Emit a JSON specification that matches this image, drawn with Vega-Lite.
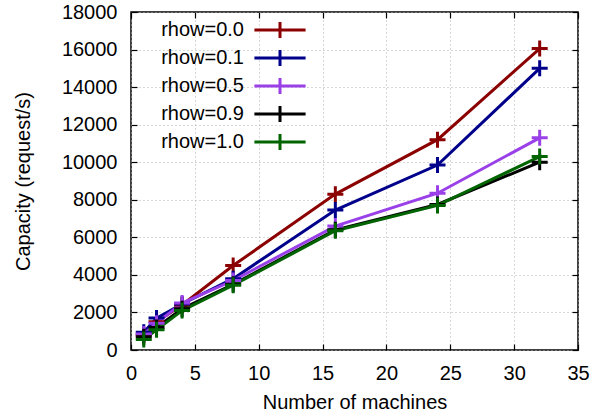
{
  "$schema": "https://vega.github.io/schema/vega-lite/v6.json",
  "width": 447,
  "height": 338,
  "autosize": "none",
  "padding": {"left": 131, "top": 12, "right": 22, "bottom": 68},
  "background": "white",
  "config": {
    "font": "Liberation Sans",
    "view": {"stroke": "black", "strokeWidth": 1.5},
    "axis": {
      "labelFont": "Liberation Sans",
      "titleFont": "Liberation Sans",
      "labelFontSize": 20,
      "titleFontSize": 20,
      "labelColor": "black",
      "titleColor": "black",
      "titleFontWeight": "normal",
      "domain": false,
      "grid": true,
      "gridColor": "#b0b0b0",
      "gridDash": [1, 3],
      "gridWidth": 1,
      "tickColor": "black",
      "tickSize": -6,
      "tickWidth": 1.2,
      "labelFlush": false,
      "format": "d"
    }
  },
  "data": {
    "values": [
      {"m": 1, "cap": 800, "rhow": "rhow=0.0"},
      {"m": 2, "cap": 1500, "rhow": "rhow=0.0"},
      {"m": 4, "cap": 2400, "rhow": "rhow=0.0"},
      {"m": 8, "cap": 4500, "rhow": "rhow=0.0"},
      {"m": 16, "cap": 8300, "rhow": "rhow=0.0"},
      {"m": 24, "cap": 11200, "rhow": "rhow=0.0"},
      {"m": 32, "cap": 16050, "rhow": "rhow=0.0"},
      {"m": 1, "cap": 950, "rhow": "rhow=0.1"},
      {"m": 2, "cap": 1700, "rhow": "rhow=0.1"},
      {"m": 4, "cap": 2450, "rhow": "rhow=0.1"},
      {"m": 8, "cap": 3800, "rhow": "rhow=0.1"},
      {"m": 16, "cap": 7450, "rhow": "rhow=0.1"},
      {"m": 24, "cap": 9850, "rhow": "rhow=0.1"},
      {"m": 32, "cap": 15000, "rhow": "rhow=0.1"},
      {"m": 1, "cap": 850, "rhow": "rhow=0.5"},
      {"m": 2, "cap": 1430, "rhow": "rhow=0.5"},
      {"m": 4, "cap": 2500, "rhow": "rhow=0.5"},
      {"m": 8, "cap": 3700, "rhow": "rhow=0.5"},
      {"m": 16, "cap": 6600, "rhow": "rhow=0.5"},
      {"m": 24, "cap": 8350, "rhow": "rhow=0.5"},
      {"m": 32, "cap": 11300, "rhow": "rhow=0.5"},
      {"m": 1, "cap": 700, "rhow": "rhow=0.9"},
      {"m": 2, "cap": 1200, "rhow": "rhow=0.9"},
      {"m": 4, "cap": 2200, "rhow": "rhow=0.9"},
      {"m": 8, "cap": 3500, "rhow": "rhow=0.9"},
      {"m": 16, "cap": 6400, "rhow": "rhow=0.9"},
      {"m": 24, "cap": 7750, "rhow": "rhow=0.9"},
      {"m": 32, "cap": 10000, "rhow": "rhow=0.9"},
      {"m": 1, "cap": 560, "rhow": "rhow=1.0"},
      {"m": 2, "cap": 1080, "rhow": "rhow=1.0"},
      {"m": 4, "cap": 2100, "rhow": "rhow=1.0"},
      {"m": 8, "cap": 3450, "rhow": "rhow=1.0"},
      {"m": 16, "cap": 6350, "rhow": "rhow=1.0"},
      {"m": 24, "cap": 7700, "rhow": "rhow=1.0"},
      {"m": 32, "cap": 10300, "rhow": "rhow=1.0"}
    ]
  },
  "layer": [
    {
      "mark": {
        "type": "line",
        "strokeWidth": 3,
        "clip": true,
        "point": {
          "shape": "M-1,0H1M0,-1V1",
          "size": 256,
          "filled": false,
          "strokeWidth": 3
        }
      },
      "encoding": {
        "x": {
          "field": "m",
          "type": "quantitative",
          "scale": {"domain": [0, 35], "nice": false},
          "axis": {
            "values": [0, 5, 10, 15, 20, 25, 30, 35],
            "title": "Number of machines",
            "labelPadding": 19.5,
            "titlePadding": 9
          }
        },
        "y": {
          "field": "cap",
          "type": "quantitative",
          "scale": {"domain": [0, 18000], "nice": false},
          "axis": {
            "values": [0, 2000, 4000, 6000, 8000, 10000, 12000, 14000, 16000, 18000],
            "title": "Capacity (request/s)",
            "labelPadding": 20,
            "titlePadding": 28
          }
        },
        "color": {
          "field": "rhow",
          "type": "nominal",
          "scale": {
            "domain": ["rhow=0.0", "rhow=0.1", "rhow=0.5", "rhow=0.9", "rhow=1.0"],
            "range": ["#8b0000", "#00008b", "#9a40e8", "#000000", "#006400"]
          },
          "legend": {
            "title": null,
            "orient": "none",
            "legendX": 139,
            "legendY": 8,
            "padding": 0,
            "symbolType": "M-3.2,0H3.2M0,-1V1",
            "symbolSize": 256,
            "symbolStrokeWidth": 3,
            "labelFont": "Liberation Sans",
            "labelFontSize": 20,
            "labelColor": "black",
            "labelAlign": "right",
            "labelOffset": -46,
            "rowPadding": 0
          }
        }
      }
    },
    {
      "mark": {"type": "point", "opacity": 0},
      "encoding": {
        "x": {
          "field": "m",
          "type": "quantitative",
          "scale": {"domain": [0, 35], "nice": false},
          "axis": {
            "orient": "top",
            "values": [0, 5, 10, 15, 20, 25, 30, 35],
            "title": null,
            "labels": false,
            "grid": false
          }
        },
        "y": {
          "field": "cap",
          "type": "quantitative",
          "scale": {"domain": [0, 18000], "nice": false},
          "axis": {
            "orient": "right",
            "values": [0, 2000, 4000, 6000, 8000, 10000, 12000, 14000, 16000, 18000],
            "title": null,
            "labels": false,
            "grid": false
          }
        }
      }
    }
  ],
  "resolve": {"axis": {"x": "independent", "y": "independent"}}
}
